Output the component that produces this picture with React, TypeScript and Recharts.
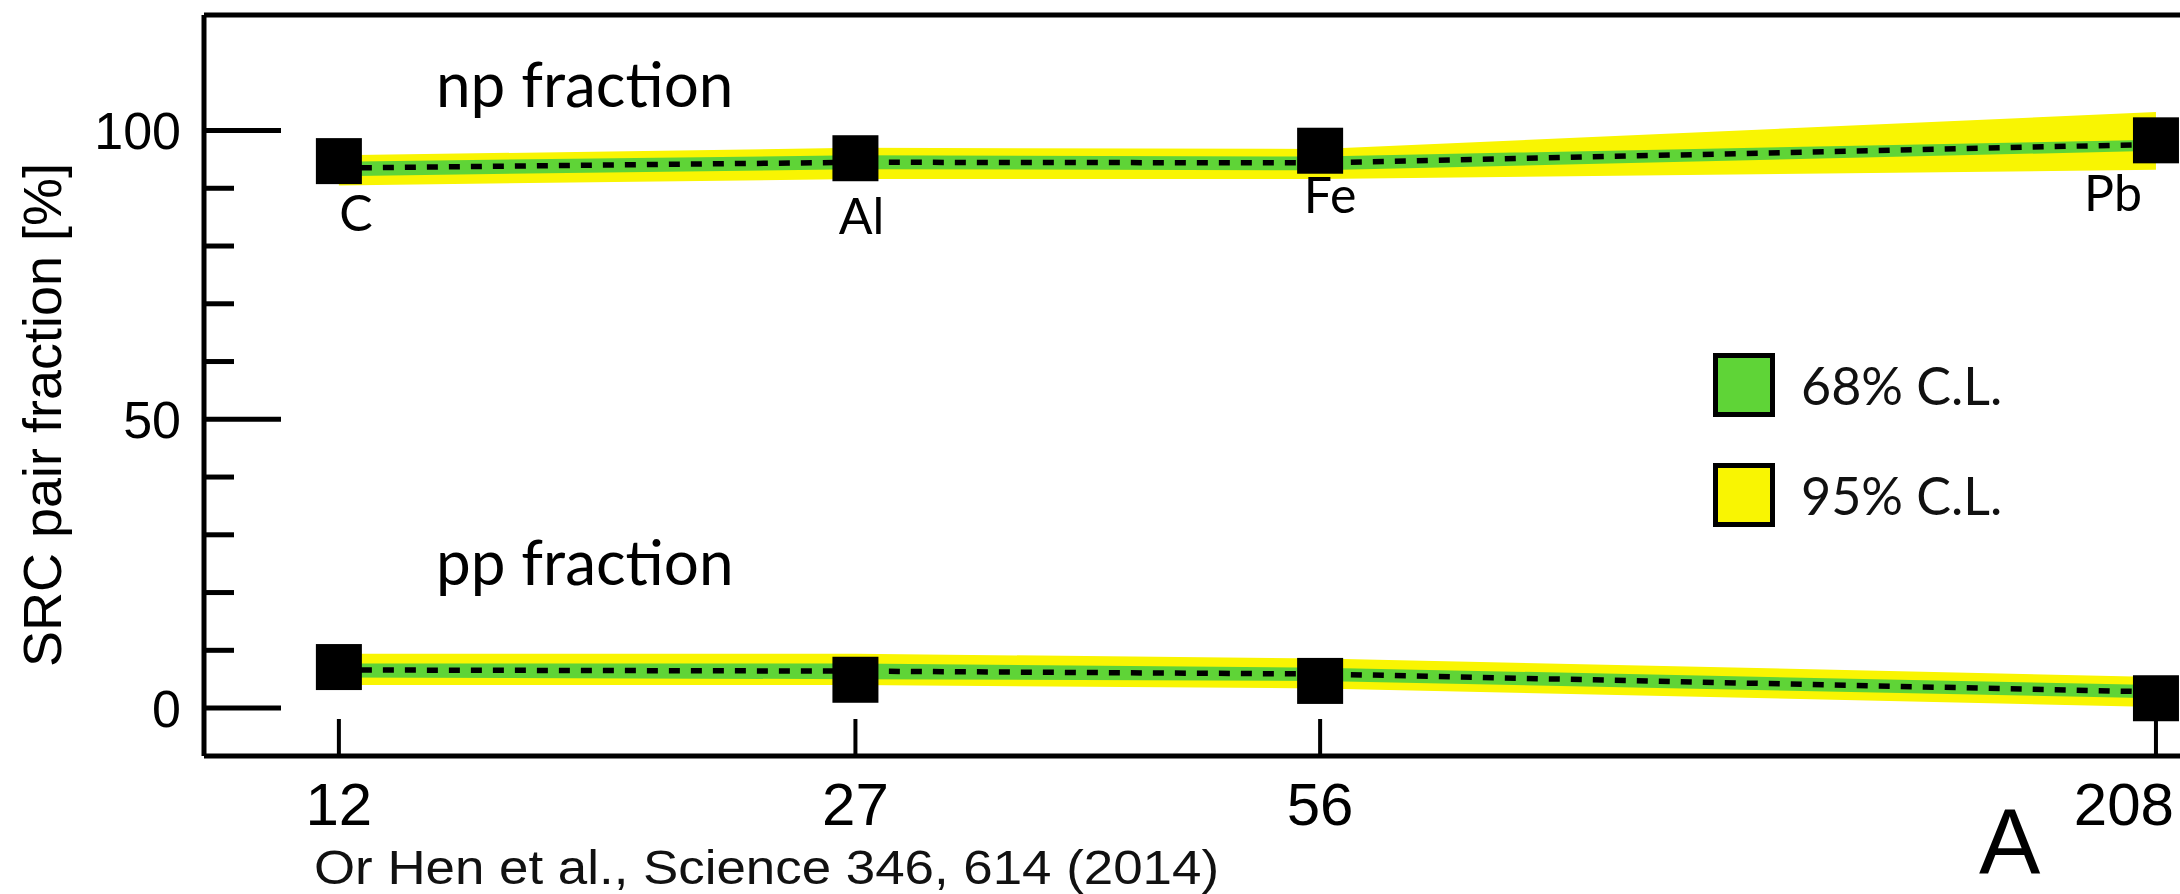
import {
  Area,
  ComposedChart,
  Legend,
  Line,
  ReferenceLine,
  Scatter,
  XAxis,
  YAxis,
} from "recharts";

const WIDTH = 2180;
const HEIGHT = 894;

const SANS = "'Liberation Sans', Arial, sans-serif";
const HUMANIST = "Lato, 'Open Sans', sans-serif";

const GREEN = "#5fd437";
const YELLOW = "#f9f502";

// nuclei on the A axis
const massNumbers = [12, 27, 56, 208];
const elements = ["C", "Al", "Fe", "Pb"];

// measured pair fractions [%]
const npMeasured = [94.7, 95.2, 96.5, 98.3];
const ppMeasured = [7.1, 4.9, 4.7, 1.7];

// fitted np fraction with its 68% / 95% C.L. bands
const npFit = [93.5, 94.5, 94.4, 97.6];
const np68Low = [92.1, 93.3, 93.1, 96.5];
const np68High = [94.6, 95.7, 95.5, 98.4];
const np95Low = [90.5, 91.6, 91.6, 93.2];
const np95High = [95.7, 97.0, 96.8, 103.2];

// fitted pp fraction with its 68% / 95% C.L. bands
const ppFit = [6.6, 6.4, 5.9, 2.8];
const pp68Low = [5.3, 5.0, 4.7, 1.7];
const pp68High = [7.7, 7.7, 7.0, 4.0];
const pp95Low = [4.0, 4.0, 3.4, 0.2];
const pp95High = [9.4, 9.4, 8.6, 5.4];

const yTicks = [0, 10, 20, 30, 40, 50, 60, 70, 80, 90, 100];
const legendLabels = ["68% C.L.", "95% C.L."];
const legendColors = [GREEN, YELLOW];

const bandRows = massNumbers.map((A, i) => ({
  A,
  npFit: npFit[i],
  np68: [np68Low[i], np68High[i]],
  np95: [np95Low[i], np95High[i]],
  ppFit: ppFit[i],
  pp68: [pp68Low[i], pp68High[i]],
  pp95: [pp95Low[i], pp95High[i]],
}));

const npPoints = massNumbers.map((A, i) => ({ A, v: npMeasured[i], el: elements[i] }));
const ppPoints = massNumbers.map((A, i) => ({ A, v: ppMeasured[i] }));

// element name placement relative to the np marker (dx, baseline dy)
const elementLabelOffset: Record<string, [number, number]> = {
  C: [17, 70],
  Al: [6, 76],
  Fe: [10, 62],
  Pb: [-43, 71],
};

const MARKER = 46;

function SquareMarker(props: any) {
  const { cx, cy } = props;
  return <rect x={cx - MARKER / 2} y={cy - MARKER / 2} width={MARKER} height={MARKER} fill="#000" />;
}

function LabelledMarker(props: any) {
  const { cx, cy, payload } = props;
  const [dx, dy] = elementLabelOffset[payload.el] ?? [0, 70];
  return (
    <g>
      <rect x={cx - MARKER / 2} y={cy - MARKER / 2} width={MARKER} height={MARKER} fill="#000" />
      <text x={cx + dx} y={cy + dy} textAnchor="middle" fontFamily={HUMANIST} fontSize={50} fill="#000">
        {payload.el}
      </text>
    </g>
  );
}

function MassTick(props: any) {
  const { x, y, payload, index } = props;
  const last = index === massNumbers.length - 1;
  return (
    <g>
      <line x1={x} y1={y} x2={x} y2={y - 37} stroke="#000" strokeWidth={4} />
      <text
        x={last ? x + 18 : x}
        y={y + 69}
        textAnchor={last ? "end" : "middle"}
        fontFamily={SANS}
        fontSize={60}
        fill="#000"
      >
        {payload.value}
      </text>
    </g>
  );
}

function FractionTick(props: any) {
  const { x, y, payload } = props;
  const major = payload.value % 50 === 0;
  return (
    <g>
      <line x1={x} y1={y} x2={x + (major ? 77 : 30)} y2={y} stroke="#000" strokeWidth={5} />
      {major && (
        <text x={x - 23} y={y} dy="0.36em" textAnchor="end" fontFamily={SANS} fontSize={52} fill="#000">
          {payload.value}
        </text>
      )}
    </g>
  );
}

function BandLegend() {
  return (
    <div>
      {legendLabels.map((label, i) => (
        <div key={label} style={{ display: "flex", alignItems: "center", height: 64, marginBottom: 46 }}>
          <div style={{ width: 52, height: 54, border: "5px solid #000", background: legendColors[i] }} />
          <span style={{ marginLeft: 26, fontFamily: HUMANIST, fontSize: 52, color: "#111", lineHeight: 1 }}>
            {label}
          </span>
        </div>
      ))}
    </div>
  );
}

export default function App() {
  return (
    <div style={{ position: "relative", width: WIDTH, height: HEIGHT, background: "#fff" }}>
      <style>{"body{margin:0;overflow:hidden;background:#fff}"}</style>
      <ComposedChart
        width={WIDTH}
        height={HEIGHT}
        data={bandRows}
        margin={{ top: 15, right: 0, bottom: 38, left: 0 }}
      >
        <XAxis
          dataKey="A"
          type="number"
          scale="log"
          domain={[9.71, 216]}
          allowDataOverflow
          ticks={massNumbers}
          interval={0}
          height={100}
          axisLine={{ stroke: "#000", strokeWidth: 5 }}
          tickLine={false}
          tickSize={0}
          tickMargin={0}
          tick={<MassTick />}
        />
        <YAxis
          type="number"
          domain={[-8.3, 120]}
          allowDataOverflow
          ticks={yTicks}
          interval={0}
          width={204}
          axisLine={{ stroke: "#000", strokeWidth: 5 }}
          tickLine={false}
          tickSize={0}
          tickMargin={0}
          tick={<FractionTick />}
        />
        <ReferenceLine y={120} stroke="#000" strokeWidth={5} />

        <Area dataKey="np95" type="linear" fill={YELLOW} fillOpacity={1} stroke="none" isAnimationActive={false} />
        <Area dataKey="pp95" type="linear" fill={YELLOW} fillOpacity={1} stroke="none" isAnimationActive={false} />
        <Area dataKey="np68" type="linear" fill={GREEN} fillOpacity={1} stroke="none" isAnimationActive={false} />
        <Area dataKey="pp68" type="linear" fill={GREEN} fillOpacity={1} stroke="none" isAnimationActive={false} />

        <Line
          dataKey="npFit"
          type="linear"
          stroke="#000"
          strokeWidth={5.5}
          strokeDasharray="11 11"
          dot={false}
          isAnimationActive={false}
        />
        <Line
          dataKey="ppFit"
          type="linear"
          stroke="#000"
          strokeWidth={5.5}
          strokeDasharray="11 11"
          dot={false}
          isAnimationActive={false}
        />

        <Scatter data={npPoints} dataKey="v" shape={<LabelledMarker />} isAnimationActive={false} />
        <Scatter data={ppPoints} dataKey="v" shape={<SquareMarker />} isAnimationActive={false} />

        <Legend
          layout="vertical"
          align="center"
          verticalAlign="middle"
          content={<BandLegend />}
          wrapperStyle={{ left: 1713, top: 353, width: 460 }}
        />
      </ComposedChart>

      <svg
        width={WIDTH}
        height={HEIGHT}
        style={{ position: "absolute", left: 0, top: 0, pointerEvents: "none" }}
      >
        <text
          x={61}
          y={415}
          transform="rotate(-90, 61, 415)"
          textAnchor="middle"
          fontFamily={SANS}
          fontSize={54}
          fill="#000"
        >
          SRC pair fraction [%]
        </text>
        <text x={436} y={107} fontFamily={HUMANIST} fontSize={62} fill="#000">
          np fraction
        </text>
        <text x={436} y={585} fontFamily={HUMANIST} fontSize={62} fill="#000">
          pp fraction
        </text>
        <text
          x={314}
          y={884}
          fontFamily={SANS}
          fontSize={48}
          fill="#111"
          textLength={905}
          lengthAdjust="spacingAndGlyphs"
        >
          Or Hen et al., Science 346, 614 (2014)
        </text>
        <text x={1979} y={874} fontFamily={SANS} fontSize={92} fill="#000">
          A
        </text>
      </svg>
    </div>
  );
}
